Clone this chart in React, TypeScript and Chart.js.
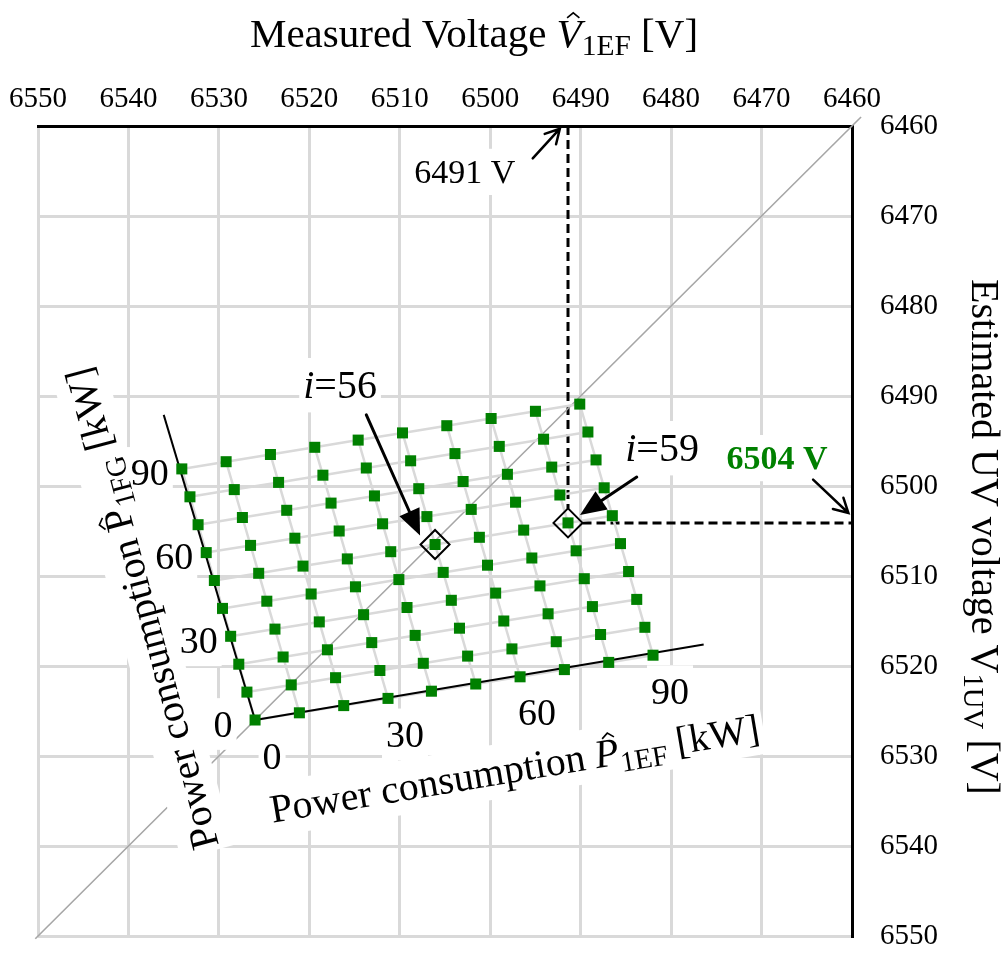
import React, { useEffect, useRef } from "react";
import { Chart, registerables } from "chart.js";

Chart.register(...registerables);

const FONT = '"Liberation Serif", "Times New Roman", serif';

// ---------- data ----------
const voltageTicks = [6550, 6540, 6530, 6520, 6510, 6500, 6490, 6480, 6470, 6460];
const p1efKW = [0, 10, 20, 30, 40, 50, 60, 70, 80, 90];
const p1fgKW = [0, 10, 20, 30, 40, 50, 60, 70, 80, 90];
const kwTickLabels = [0, 30, 60, 90];

// measured voltage V1EF [V]; rows = P1FG index, columns = P1EF index
const measuredV = [
  [6526.0, 6521.1, 6516.2, 6511.3, 6506.5, 6501.6, 6496.7, 6491.8, 6486.9, 6482.0],
  [6526.9, 6522.0, 6517.1, 6512.2, 6507.4, 6502.5, 6497.6, 6492.7, 6487.8, 6482.9],
  [6527.8, 6522.9, 6518.0, 6513.1, 6508.3, 6503.4, 6498.5, 6493.6, 6488.7, 6483.8],
  [6528.7, 6523.8, 6518.9, 6514.0, 6509.2, 6504.3, 6499.4, 6494.5, 6489.6, 6484.7],
  [6529.6, 6524.7, 6519.8, 6514.9, 6510.1, 6505.2, 6500.3, 6495.4, 6490.5, 6485.6],
  [6530.5, 6525.6, 6520.7, 6515.8, 6511.0, 6506.1, 6501.2, 6496.3, 6491.4, 6486.5],
  [6531.4, 6526.5, 6521.6, 6516.7, 6511.9, 6507.0, 6502.1, 6497.2, 6492.3, 6487.4],
  [6532.3, 6527.4, 6522.5, 6517.6, 6512.8, 6507.9, 6503.0, 6498.1, 6493.2, 6488.3],
  [6533.2, 6528.3, 6523.4, 6518.5, 6513.7, 6508.8, 6503.9, 6499.0, 6494.1, 6489.2],
  [6534.1, 6529.2, 6524.3, 6519.4, 6514.6, 6509.7, 6504.8, 6499.9, 6495.0, 6490.1],
];

// estimated UV voltage V1UV [V]; rows = P1FG index, columns = P1EF index
const estimatedV = [
  [6526.0, 6525.2, 6524.4, 6523.6, 6522.8, 6522.0, 6521.2, 6520.4, 6519.6, 6518.8],
  [6522.9, 6522.1, 6521.3, 6520.5, 6519.7, 6518.9, 6518.1, 6517.3, 6516.5, 6515.7],
  [6519.8, 6519.0, 6518.2, 6517.4, 6516.6, 6515.8, 6515.0, 6514.2, 6513.4, 6512.6],
  [6516.7, 6515.9, 6515.1, 6514.3, 6513.5, 6512.7, 6511.9, 6511.1, 6510.3, 6509.5],
  [6513.6, 6512.8, 6512.0, 6511.2, 6510.4, 6509.6, 6508.8, 6508.0, 6507.2, 6506.4],
  [6510.5, 6509.7, 6508.9, 6508.1, 6507.3, 6506.5, 6505.7, 6504.9, 6504.1, 6503.3],
  [6507.4, 6506.6, 6505.8, 6505.0, 6504.2, 6503.4, 6502.6, 6501.8, 6501.0, 6500.2],
  [6504.3, 6503.5, 6502.7, 6501.9, 6501.1, 6500.3, 6499.5, 6498.7, 6497.9, 6497.1],
  [6501.2, 6500.4, 6499.6, 6498.8, 6498.0, 6497.2, 6496.4, 6495.6, 6494.8, 6494.0],
  [6498.1, 6497.3, 6496.5, 6495.7, 6494.9, 6494.1, 6493.3, 6492.5, 6491.7, 6490.9],
];

const diagonalEnds = [6550.3, 6459.0];
const p1efAxisEnd = { x: 6476.4, y: 6517.6 };
const p1fgAxisEnd = { x: 6536.1, y: 6492.1 };

const markedIndices = [56, 59];
const readoutIndex = 59;
const readoutMeasured = 6491;
const readoutEstimated = 6504;

// annotation anchors (voltage coordinates)
const labelI56 = { x: 6516.6, y: 6488.8 };
const arrowI56From = { x: 6513.7, y: 6492.1 };
const labelI59 = { x: 6481.0, y: 6495.8 };
const arrowI59From = { x: 6483.8, y: 6499.0 };
const labelMeasured = { x: 6502.8, y: 6465.1 };
const arrowMeasuredFrom = { x: 6495.3, y: 6463.6 };
const arrowMeasuredTo = { x: 6492.3, y: 6460.3 };
const labelEstimated = { x: 6468.3, y: 6496.9 };
const arrowEstimatedFrom = { x: 6464.3, y: 6499.3 };
const arrowEstimatedTo = { x: 6460.4, y: 6503.0 };
const p1efTitleAt = { x: 6497.3, y: 6531.4 };
const p1fgTitleAt = { x: 6538.5, y: 6513.6 };
const p1fgTitleTiltDeg = 15;

// ---------- helpers ----------
type Part = { t: string; it?: boolean; sub?: boolean; hat?: boolean; bold?: boolean };

const pointOf = (i: number) => {
  const a = (i - 1) % 10;
  const b = Math.floor((i - 1) / 10);
  return { x: measuredV[b][a], y: estimatedV[b][a] };
};

function partFont(p: Part, size: number) {
  const s = p.sub ? size * 0.72 : size;
  return `${p.it ? "italic " : ""}${p.bold ? "bold " : ""}${s}px ${FONT}`;
}

function richWidth(ctx: CanvasRenderingContext2D, parts: Part[], size: number) {
  let w = 0;
  for (const p of parts) {
    ctx.font = partFont(p, size);
    w += ctx.measureText(p.t).width;
  }
  return w;
}

function drawRich(
  ctx: CanvasRenderingContext2D,
  parts: Part[],
  cx: number,
  cy: number,
  size: number,
  angle: number,
  color: string,
  mode: "box" | "text"
) {
  ctx.save();
  ctx.translate(cx, cy);
  ctx.rotate(angle);
  const w = richWidth(ctx, parts, size);
  if (mode === "box") {
    ctx.fillStyle = "#ffffff";
    ctx.fillRect(-w / 2 - 4, -0.68 * size, w + 8, 1.36 * size);
  } else {
    let x = -w / 2;
    const base = 0.33 * size;
    ctx.fillStyle = color;
    ctx.strokeStyle = color;
    ctx.textAlign = "left";
    ctx.textBaseline = "alphabetic";
    for (const p of parts) {
      ctx.font = partFont(p, size);
      const pw = ctx.measureText(p.t).width;
      const by = p.sub ? base + 0.2 * size : base;
      ctx.fillText(p.t, x, by);
      if (p.hat) {
        const hx = x + pw / 2 + (p.it ? 0.1 * size : 0);
        const hy = base - 0.8 * size;
        ctx.lineWidth = Math.max(1.3, size * 0.04);
        ctx.beginPath();
        ctx.moveTo(hx - 0.15 * size, hy + 0.1 * size);
        ctx.lineTo(hx, hy - 0.02 * size);
        ctx.lineTo(hx + 0.15 * size, hy + 0.1 * size);
        ctx.stroke();
      }
      x += pw;
    }
  }
  ctx.restore();
}

function drawArrow(
  ctx: CanvasRenderingContext2D,
  fx: number,
  fy: number,
  tx: number,
  ty: number,
  filled: boolean
) {
  const ang = Math.atan2(ty - fy, tx - fx);
  ctx.save();
  ctx.strokeStyle = "#000";
  ctx.fillStyle = "#000";
  ctx.lineCap = "round";
  if (filled) {
    const L = 26;
    const W = 11;
    const bx = tx - L * Math.cos(ang);
    const by = ty - L * Math.sin(ang);
    ctx.lineWidth = 3;
    ctx.beginPath();
    ctx.moveTo(fx, fy);
    ctx.lineTo(bx, by);
    ctx.stroke();
    ctx.beginPath();
    ctx.moveTo(tx, ty);
    ctx.lineTo(bx + W * Math.sin(ang), by - W * Math.cos(ang));
    ctx.lineTo(bx - W * Math.sin(ang), by + W * Math.cos(ang));
    ctx.closePath();
    ctx.fill();
  } else {
    const L = 16;
    const spread = 0.5;
    ctx.lineWidth = 2.5;
    ctx.beginPath();
    ctx.moveTo(fx, fy);
    ctx.lineTo(tx, ty);
    ctx.moveTo(tx - L * Math.cos(ang - spread), ty - L * Math.sin(ang - spread));
    ctx.lineTo(tx, ty);
    ctx.lineTo(tx - L * Math.cos(ang + spread), ty - L * Math.sin(ang + spread));
    ctx.stroke();
  }
  ctx.restore();
}

const topTitle: Part[] = [
  { t: "Measured Voltage " },
  { t: "V", it: true, hat: true },
  { t: "1EF", sub: true },
  { t: " [V]" },
];
const rightTitle: Part[] = [
  { t: "Estimated UV voltage " },
  { t: "V" },
  { t: "1UV", sub: true },
  { t: " [V]" },
];
const p1efTitle: Part[] = [
  { t: "Power consumption " },
  { t: "P", it: true, hat: true },
  { t: "1EF", sub: true },
  { t: " [kW]" },
];
const p1fgTitle: Part[] = [
  { t: "Power consumption " },
  { t: "P", hat: true },
  { t: "1FG", sub: true },
  { t: " [kW]" },
];
const iLabel = (n: number): Part[] => [{ t: "i", it: true }, { t: "=" + n }];

type Label = { parts: Part[]; x: number; y: number; size: number; angle: number; color: string };

function collectLabels(chart: any): Label[] {
  const xs = chart.scales.x;
  const ys = chart.scales.y;
  const P = (p: { x: number; y: number }) => ({ x: xs.getPixelForValue(p.x), y: ys.getPixelForValue(p.y) });
  const o = P({ x: measuredV[0][0], y: estimatedV[0][0] });
  const eEnd = P(p1efAxisEnd);
  const efAng = Math.atan2(eEnd.y - o.y, eEnd.x - o.x);
  const fgAng = -Math.PI / 2 - (p1fgTitleTiltDeg * Math.PI) / 180;
  const labels: Label[] = [];
  for (const k of kwTickLabels) {
    const a = p1efKW.indexOf(k);
    const pe = P({ x: measuredV[0][a], y: estimatedV[0][a] });
    labels.push({ parts: [{ t: String(k) }], x: pe.x + 17, y: pe.y + 36, size: 38, angle: 0, color: "#000" });
    const b = p1fgKW.indexOf(k);
    const pf = P({ x: measuredV[b][0], y: estimatedV[b][0] });
    labels.push({ parts: [{ t: String(k) }], x: pf.x - 32, y: pf.y + 4, size: 38, angle: 0, color: "#000" });
  }
  const t1 = P(p1efTitleAt);
  labels.push({ parts: p1efTitle, x: t1.x, y: t1.y, size: 40, angle: efAng, color: "#000" });
  const t2 = P(p1fgTitleAt);
  labels.push({ parts: p1fgTitle, x: t2.x, y: t2.y, size: 40, angle: fgAng, color: "#000" });
  const l56 = P(labelI56);
  labels.push({ parts: iLabel(markedIndices[0]), x: l56.x, y: l56.y, size: 40, angle: 0, color: "#000" });
  const l59 = P(labelI59);
  labels.push({ parts: iLabel(markedIndices[1]), x: l59.x, y: l59.y, size: 40, angle: 0, color: "#000" });
  const lm = P(labelMeasured);
  labels.push({ parts: [{ t: readoutMeasured + " V" }], x: lm.x, y: lm.y, size: 34, angle: 0, color: "#000" });
  const le = P(labelEstimated);
  labels.push({ parts: [{ t: readoutEstimated + " V", bold: true }], x: le.x, y: le.y, size: 34, angle: 0, color: "#008000" });
  return labels;
}

const annotationPlugin = {
  id: "annotations",
  beforeDatasetsDraw(chart: any) {
    const ctx = chart.ctx as CanvasRenderingContext2D;
    const xs = chart.scales.x;
    const ys = chart.scales.y;
    const ca = chart.chartArea;
    const p = pointOf(readoutIndex);
    const px = xs.getPixelForValue(p.x);
    const py = ys.getPixelForValue(p.y);
    ctx.save();
    ctx.strokeStyle = "#000";
    ctx.lineWidth = 3;
    ctx.setLineDash([9, 5]);
    ctx.beginPath();
    ctx.moveTo(px, ca.top);
    ctx.lineTo(px, py - 14.5);
    ctx.moveTo(px + 14.5, py);
    ctx.lineTo(ca.right, py);
    ctx.stroke();
    ctx.restore();
  },
  afterDatasetDraw(chart: any, args: any) {
    if (args.index !== 0) return;
    const ctx = chart.ctx as CanvasRenderingContext2D;
    for (const l of collectLabels(chart)) drawRich(ctx, l.parts, l.x, l.y, l.size, l.angle, l.color, "box");
  },
  afterDraw(chart: any) {
    const ctx = chart.ctx as CanvasRenderingContext2D;
    const xs = chart.scales.x;
    const ys = chart.scales.y;
    const ca = chart.chartArea;
    const P = (p: { x: number; y: number }) => ({ x: xs.getPixelForValue(p.x), y: ys.getPixelForValue(p.y) });
    for (const l of collectLabels(chart)) drawRich(ctx, l.parts, l.x, l.y, l.size, l.angle, l.color, "text");

    // axis titles
    drawRich(ctx, topTitle, ca.left + 436, 33, 41, 0, "#000", "text");
    drawRich(ctx, rightTitle, ca.right + 133, (ca.top + ca.bottom) / 2 + 6, 40, Math.PI / 2, "#000", "text");

    // arrows
    const p56 = P(pointOf(markedIndices[0]));
    const f56 = P(arrowI56From);
    drawArrow(ctx, f56.x, f56.y, p56.x - 15, p56.y - 9, true);
    const p59 = P(pointOf(markedIndices[1]));
    const f59 = P(arrowI59From);
    drawArrow(ctx, f59.x, f59.y, p59.x + 12, p59.y - 8, true);
    const fm = P(arrowMeasuredFrom);
    const tm = P(arrowMeasuredTo);
    drawArrow(ctx, fm.x, fm.y, tm.x, tm.y, false);
    const fe = P(arrowEstimatedFrom);
    const te = P(arrowEstimatedTo);
    drawArrow(ctx, fe.x, fe.y, te.x, te.y, false);
  },
};

function buildDatasets() {
  const ds: any[] = [];
  ds.push({
    data: diagonalEnds.map((v) => ({ x: v, y: v })),
    showLine: true,
    borderColor: "#a6a6a6",
    borderWidth: 1.6,
    pointRadius: 0,
    clip: false,
    order: 10,
  });
  for (let b = 0; b < p1fgKW.length; b++) {
    ds.push({
      data: p1efKW.map((_, a) => ({ x: measuredV[b][a], y: estimatedV[b][a] })),
      showLine: true,
      borderColor: "#d9d9d9",
      borderWidth: 2.5,
      pointRadius: 0,
      order: 9,
    });
  }
  for (let a = 0; a < p1efKW.length; a++) {
    ds.push({
      data: p1fgKW.map((_, b) => ({ x: measuredV[b][a], y: estimatedV[b][a] })),
      showLine: true,
      borderColor: "#d9d9d9",
      borderWidth: 2.5,
      pointRadius: 0,
      order: 9,
    });
  }
  const origin = { x: measuredV[0][0], y: estimatedV[0][0] };
  ds.push({ data: [origin, p1efAxisEnd], showLine: true, borderColor: "#000", borderWidth: 2, pointRadius: 0, order: 5 });
  ds.push({ data: [origin, p1fgAxisEnd], showLine: true, borderColor: "#000", borderWidth: 2, pointRadius: 0, order: 5 });
  ds.push({
    data: markedIndices.map(pointOf),
    pointStyle: "rectRot",
    pointRadius: 14.5,
    pointBackgroundColor: "rgba(0,0,0,0)",
    pointBorderColor: "#000",
    pointBorderWidth: 2,
    order: 2,
  });
  const pts: { x: number; y: number }[] = [];
  for (let b = 0; b < p1fgKW.length; b++)
    for (let a = 0; a < p1efKW.length; a++) pts.push({ x: measuredV[b][a], y: estimatedV[b][a] });
  ds.push({
    data: pts,
    pointStyle: "rect",
    pointRadius: 7.8,
    pointBackgroundColor: "#008000",
    pointBorderWidth: 0,
    order: 1,
  });
  return ds;
}

export default function App() {
  const ref = useRef<HTMLCanvasElement | null>(null);
  useEffect(() => {
    if (!ref.current) return;
    const tickFont = { family: FONT, size: 29 };
    const chart = new Chart(ref.current, {
      type: "scatter",
      data: { datasets: buildDatasets() },
      options: {
        animation: false,
        responsive: false,
        devicePixelRatio: 1,
        events: [],
        layout: { padding: { left: 38, bottom: 18, top: 0, right: 0 } },
        plugins: { legend: { display: false }, tooltip: { enabled: false } },
        scales: {
          x: {
            type: "linear",
            position: "top",
            reverse: true,
            min: voltageTicks[voltageTicks.length - 1],
            max: voltageTicks[0],
            afterBuildTicks: (s: any) => {
              s.ticks = voltageTicks.map((v) => ({ value: v }));
            },
            afterFit: (s: any) => {
              s.height = 126;
              s.paddingLeft = 0;
              s.paddingRight = 0;
              s.paddingTop = 0;
              s.paddingBottom = 0;
            },
            ticks: {
              font: tickFont,
              color: "#000",
              padding: 9,
              maxRotation: 0,
              autoSkip: false,
              callback: (v: any) => String(v),
            },
            grid: { color: "#d9d9d9", lineWidth: 3, drawTicks: false },
            border: { color: "#000", width: 3 },
          },
          y: {
            type: "linear",
            position: "right",
            reverse: true,
            min: voltageTicks[voltageTicks.length - 1],
            max: voltageTicks[0],
            afterBuildTicks: (s: any) => {
              s.ticks = voltageTicks.map((v) => ({ value: v }));
            },
            afterFit: (s: any) => {
              s.width = 155;
              s.paddingLeft = 0;
              s.paddingRight = 0;
              s.paddingTop = 0;
              s.paddingBottom = 0;
            },
            ticks: {
              font: tickFont,
              color: "#000",
              padding: 28,
              autoSkip: false,
              callback: (v: any) => String(v),
            },
            grid: { color: "#d9d9d9", lineWidth: 3, drawTicks: false },
            border: { color: "#000", width: 3 },
          },
        },
      } as any,
      plugins: [annotationPlugin],
    });
    return () => chart.destroy();
  }, []);
  return (
    <div style={{ position: "fixed", left: 0, top: 0, width: 1007, height: 954, background: "#fff" }}>
      <canvas ref={ref} width={1007} height={954} style={{ width: 1007, height: 954, display: "block" }} />
    </div>
  );
}
